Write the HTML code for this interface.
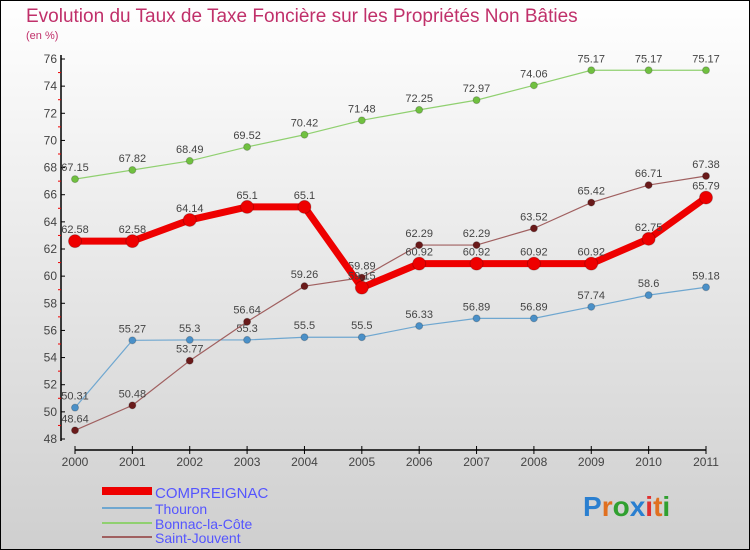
<!DOCTYPE html>
<html><head><meta charset="utf-8"><style>
body{margin:0;}
#wrap{width:750px;height:550px;position:relative;overflow:hidden;font-family:"Liberation Sans",sans-serif;}
</style></head><body>
<div id="wrap">
<svg id="chart" width="750" height="550" xmlns="http://www.w3.org/2000/svg">
<defs><linearGradient id="bg" x1="0" y1="0" x2="0" y2="1"><stop offset="0" stop-color="#ffffff"/><stop offset="1" stop-color="#cfcfcf"/></linearGradient></defs>
<rect x="0.5" y="0.5" width="749" height="549" fill="url(#bg)" stroke="#000"/>
<text x="26" y="22" font-size="19" fill="#c0306a">Evolution du Taux de Taxe Foncière sur les Propriétés Non Bâties</text>
<text x="26" y="39" font-size="11" fill="#c0306a">(en %)</text>
<g id="axes"></g>
<g id="series"></g>
<g id="legend">
<rect x="102" y="487" width="50" height="8" fill="#e00"/>
<text x="155" y="498" font-size="15" fill="#5555ff">COMPREIGNAC</text>
<line x1="102" y1="508" x2="152" y2="508" stroke="#6fa7d0" stroke-width="2"/>
<text x="155" y="514" font-size="14" fill="#5555ff">Thouron</text>
<line x1="102" y1="523" x2="152" y2="523" stroke="#90d070" stroke-width="2"/>
<text x="155" y="529" font-size="14" fill="#5555ff">Bonnac-la-Côte</text>
<line x1="102" y1="537" x2="152" y2="537" stroke="#a06060" stroke-width="2"/>
<text x="155" y="543" font-size="14" fill="#5555ff">Saint-Jouvent</text>
</g>
<text x="583" y="516" font-size="28" font-weight="bold"><tspan fill="#2a7fd0">P</tspan><tspan fill="#e07020">r</tspan><tspan fill="#30a030">o</tspan><tspan fill="#2a7fd0">x</tspan><tspan fill="#e03030">i</tspan><tspan fill="#e07020">t</tspan><tspan fill="#30a030">i</tspan></text>
</svg>
</div>
<script>
const years=[2000,2001,2002,2003,2004,2005,2006,2007,2008,2009,2010,2011];
const compreignac=[62.58,62.58,64.14,65.1,65.1,59.15,60.92,60.92,60.92,60.92,62.75,65.79];
const thouron=[50.31,55.27,55.3,55.3,55.5,55.5,56.33,56.89,56.89,57.74,58.6,59.18];
const bonnac=[67.15,67.82,68.49,69.52,70.42,71.48,72.25,72.97,74.06,75.17,75.17,75.17];
const saintJouvent=[48.64,50.48,53.77,56.64,59.26,59.89,62.29,62.29,63.52,65.42,66.71,67.38];
const yTicks=[48,50,52,54,56,58,60,62,64,66,68,70,72,74,76];
const NS='http://www.w3.org/2000/svg';
const xs=i=>75+i*(706-75)/11;
const ys=v=>439-(v-48)*(439-59)/28;
function mk(tag,attrs,parent){const e=document.createElementNS(NS,tag);for(const k in attrs)e.setAttribute(k,attrs[k]);parent.appendChild(e);return e;}
const axes=document.getElementById('axes');
let yl=mk('line',{x1:61,y1:55,x2:61,y2:441,stroke:'#000','stroke-width':1.5},axes);


let xl=mk('line',{x1:75,y1:450,x2:706,y2:450,stroke:'#000','stroke-width':1.5},axes);


yTicks.forEach(v=>{
 mk('line',{x1:61,y1:ys(v),x2:65,y2:ys(v),stroke:'#000'},axes);
 if(v<76) mk('line',{x1:58,y1:ys(v+1),x2:61,y2:ys(v+1),stroke:'#e00'},axes);
 const t=mk('text',{x:57,y:ys(v)+4,'font-size':12,fill:'#444','text-anchor':'end'},axes);
 t.textContent=v;
 
 
});
years.forEach((y,i)=>{
 mk('line',{x1:xs(i),y1:446,x2:xs(i),y2:454,stroke:'#000'},axes);
 const t=mk('text',{x:xs(i),y:466,'font-size':12,fill:'#444','text-anchor':'middle'},axes);
 t.textContent=y;
 
 
});
const ser=document.getElementById('series');
function draw(vals,name,color,dot,w,r){
 const g=mk('g',{},ser);
 
 
 const p=mk('polyline',{points:vals.map((v,i)=>xs(i)+','+ys(v)).join(' '),fill:'none',stroke:color,'stroke-width':w,'stroke-linejoin':'round'},g);
 
 
 vals.forEach((v,i)=>{
  const c=mk('circle',{cx:xs(i),cy:ys(v),r:r,fill:dot,stroke:'#0003'},g);
  
  
  const t=mk('text',{x:xs(i),y:ys(v)-8,'font-size':11,fill:'#444','text-anchor':'middle'},g);
  t.textContent=String(v);
  
  
 });
}
draw(bonnac,'bonnac','#90d070','#70c040',1.2,3.5);
draw(thouron,'thouron','#6fa7d0','#4a90c8',1.2,3.5);
draw(saintJouvent,'saint-jouvent','#a06060','#6a1a1a',1.2,3.5);
draw(compreignac,'compreignac','#e00','#e00',7,6.5);
</script>
</body></html>
